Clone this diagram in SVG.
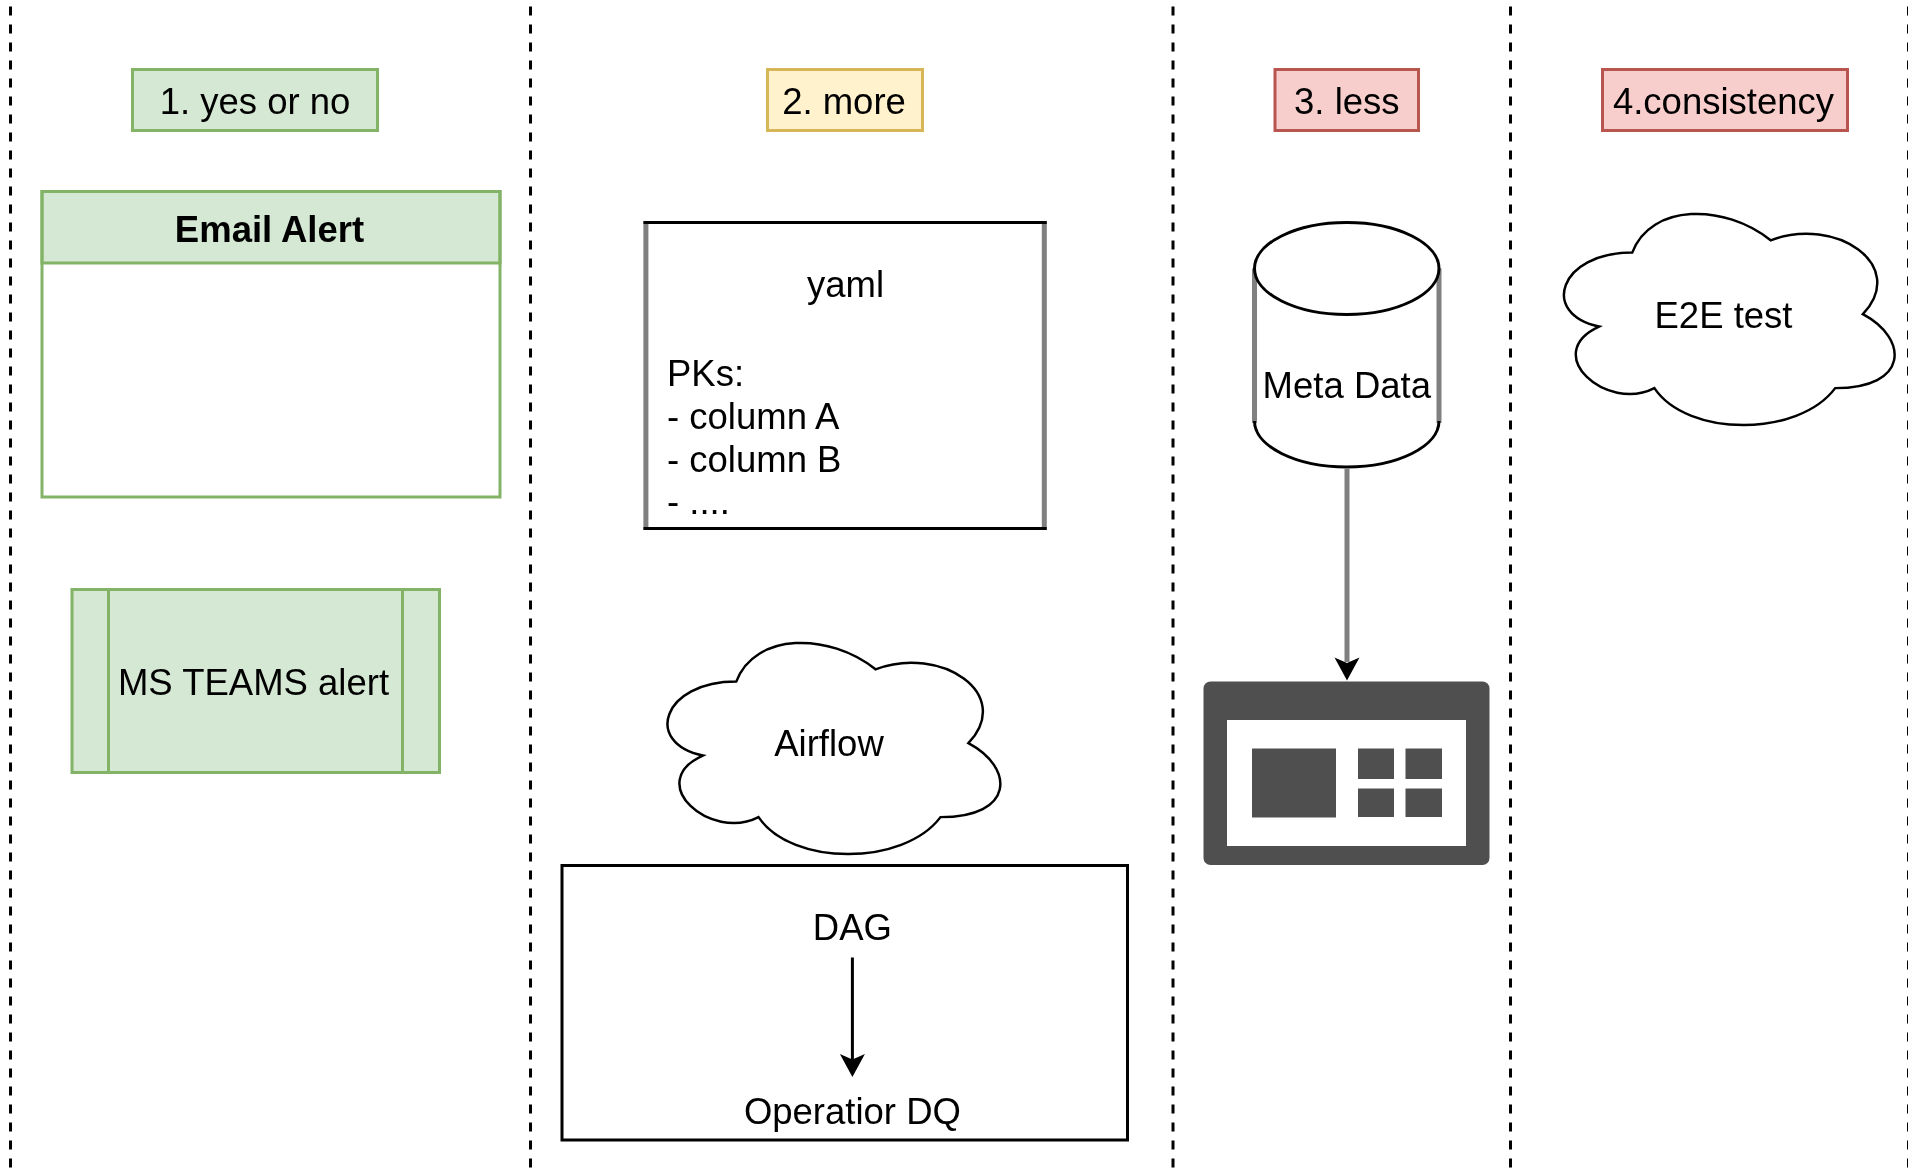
<svg xmlns="http://www.w3.org/2000/svg" width="1908" height="1174" viewBox="0 0 1908 1174">
<style>
text{font-family:"Liberation Sans",Arial,sans-serif;font-size:36.5px;fill:#000;text-anchor:middle}
.b{font-weight:bold}
.l{text-anchor:start}
.green{fill:#d5e8d4;stroke:#82b366;stroke-width:3}
.gl{fill:none;stroke:#82b366;stroke-width:3}
.yellow{fill:#fff2cc;stroke:#d6b656;stroke-width:3}
.red{fill:#f8cecc;stroke:#b85450;stroke-width:3}
.k{fill:#fff;stroke:#000;stroke-width:3}
.sep{stroke:#000;stroke-width:3;stroke-dasharray:9 9;fill:none}
.cloud{fill:#fff;stroke:#000;stroke-width:.8}
.side{stroke:#808080;stroke-width:5;fill:none}
.ic{fill:#505050}
</style>
<defs>
<filter id="soft" x="0" y="0" width="1908" height="1174" filterUnits="userSpaceOnUse"><feGaussianBlur stdDeviation="0.7"/></filter>
<path id="cl" d="M30 20C6 20 0 40 19.2 44C0 52.8 21.6 72 37.2 64C48 80 84 80 96 64C120 64 120 48 105 40C120 24 96 8 75 16C60 4 36 4 30 20Z"/>
<path id="head" d="M0 0L-12.5-23L0-17.5L12.5-23Z"/>
</defs>
<rect width="1908" height="1174" fill="#fff"/>
<g filter="url(#soft)">
<g id="separators">
<path class="sep" d="M10.5 6.5V1174M530.5 6.5V1174M1173 6.5V1174M1510.5 6.5V1174M1908.5 6.5V1174"/>
</g>
<g id="head-1"><rect class="green" x="132.5" y="69.5" width="245" height="61"/><text x="255" y="114">1. yes or no</text></g>
<g id="head-2"><rect class="yellow" x="767.5" y="69.5" width="155" height="61"/><text x="844" y="114">2. more</text></g>
<g id="head-3"><rect class="red" x="1275" y="69.5" width="143.5" height="61"/><text x="1346.8" y="114">3. less</text></g>
<g id="head-4"><rect class="red" x="1602.5" y="69.5" width="245" height="61"/><text x="1723.5" y="114">4.consistency</text></g>
<g id="email-alert"><rect x="42" y="191.5" width="458" height="305.5" fill="#fff" stroke="none"/><rect class="green" x="42" y="191.5" width="458" height="71.5"/><rect class="gl" x="42" y="191.5" width="458" height="305.5"/><text class="b" x="269.5" y="242">Email Alert</text></g>
<g id="teams-alert"><rect class="green" x="72" y="589.5" width="367.5" height="183"/><path class="gl" d="M108.5 589.5V772.5M402.5 589.5V772.5"/><text x="253.5" y="695">MS TEAMS alert</text></g>
<g id="yaml"><rect x="645" y="222.5" width="400" height="306" fill="#fff"/><path class="side" d="M645.9 221V530M1044.3 221V530"/><path d="M643.5 222.5H1046.7M643.5 528.5H1046.7" stroke="#000" stroke-width="3" fill="none"/>
<text x="845.5" y="297">yaml</text><text class="l" x="667" y="386">PKs:</text><text class="l" x="667" y="429">- column A</text><text class="l" x="667" y="472">- column B</text><text class="l" x="667" y="514">- ....</text></g>
<g id="airflow"><use href="#cl" class="cloud" transform="translate(643.4 620) scale(3.095 3.08)"/><text x="829" y="756">Airflow</text></g>
<g id="dag"><rect class="k" x="562" y="865.5" width="565.5" height="274.5"/><text x="852.4" y="940">DAG</text><text x="852.4" y="1123.5">Operatior DQ</text></g>
<g id="e2e"><use href="#cl" class="cloud" transform="translate(1540 191) scale(3.075 3.08)"/><text x="1723.5" y="328">E2E test</text></g>
<g id="metadata"><path d="M1254.5 268.5A92.25 46 0 0 1 1439 268.5V421A92.25 46 0 0 1 1254.5 421Z" fill="#fff"/><path class="side" d="M1254.5 268.5V423M1439 268.5V423"/><path d="M1254.5 421A92.25 46 0 0 0 1439 421" fill="none" stroke="#000" stroke-width="3"/><ellipse cx="1346.75" cy="268.5" rx="92.25" ry="46" fill="#fff" stroke="#000" stroke-width="3"/><text x="1346.8" y="398">Meta Data</text></g>
<g id="dashboard"><rect class="ic" x="1203.5" y="681.5" width="286" height="183.5" rx="7"/><rect x="1227" y="720" width="239" height="126" fill="#fff"/><rect class="ic" x="1252" y="748.5" width="84" height="69"/><rect class="ic" x="1358" y="748.5" width="36" height="30.5"/><rect class="ic" x="1405.5" y="748.5" width="36.5" height="30.5"/><rect class="ic" x="1358" y="788.5" width="36" height="28.5"/><rect class="ic" x="1405.5" y="788.5" width="36.5" height="28.5"/></g>
<g id="connectors">
<path d="M852.4 957.5V1061" stroke="#000" stroke-width="3" fill="none"/><use href="#head" transform="translate(852.4 1077)"/>
<path d="M1347 468V662" stroke="#808080" stroke-width="5" fill="none"/><use href="#head" transform="translate(1347 680.5)"/>
</g>
</g>
</svg>
